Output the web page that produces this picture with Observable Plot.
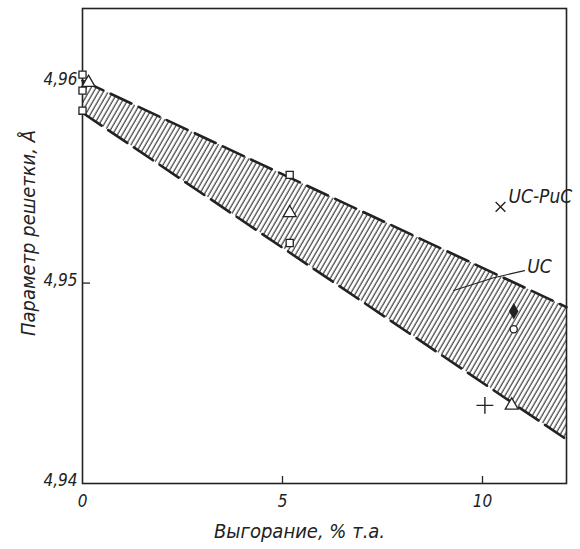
<!DOCTYPE html>
<html><head><meta charset="utf-8">
<script src="https://cdn.jsdelivr.net/npm/d3@7"></script>
<script src="https://cdn.jsdelivr.net/npm/@observablehq/plot@0.6"></script>
<style>
body{margin:0;background:#fff;}
svg text{font-style:italic;}
</style></head><body><div id="chart"></div>
<script>
// axis ticks
const xTicks = [0, 5, 10];
const yTicks = [4.94, 4.95, 4.96];
const xInnerTicks = [5, 10];
const yInnerTicks = [4.95, 4.96];
// hatched band (UC)
const bandX = [0, 12.1];
const bandUpper = [4.9601, 4.9488];
const bandLower = [4.9585, 4.9422];
// measured points
const squareX = [0, 0, 0, 5.18, 5.18];
const squareY = [4.9604, 4.9596, 4.9586, 4.9554, 4.9520];
const triangleX = [0.15, 5.18, 10.73];
const triangleY = [4.9600, 4.9535, 4.9439];
const crossX = [10.45];
const crossY = [4.9538];
const diamondX = [10.78];
const diamondY = [4.9486];
const circleX = [10.78];
const circleY = [4.9477];
const plusX = [10.06];
const plusY = [4.9439];
// annotations
const labelText = ["UC-PuC", "UC"];
const labelX = [10.65, 11.12];
const labelY = [4.9543, 4.9508];
const leaderX = [11.05, 10.28, 9.28];
const leaderY = [4.95062, 4.95027, 4.94963];
const xTitle = "Выгорание, % т.а.";
const yTitle = "Параметр решетки, Å";

const band = bandX.map((x, i) => ({x, hi: bandUpper[i], lo: bandLower[i]}));
const pts = (xs, ys) => xs.map((x, i) => ({x, y: ys[i]}));
const labels = labelText.map((t, i) => ({t, x: labelX[i], y: labelY[i]}));
const ink = "#222";
const fmt = d => d.toFixed(2).replace(".", ",");
const xTickLen = 0.00035, yTickLen = 0.2;

const svg = Plot.plot({
  width: 580, height: 549,
  marginLeft: 82, marginRight: 14, marginTop: 8, marginBottom: 66,
  style: {fontFamily: "'Liberation Sans Narrow','DejaVu Sans Condensed','Liberation Sans',sans-serif", fontSize: "17px", color: ink, background: "#fff"},
  x: {domain: [0, 12.1]},
  y: {domain: [4.94, 4.9637]},
  marks: [
    Plot.areaY(band, {x: "x", y1: "lo", y2: "hi", fill: "url(#hatch)"}),
    Plot.line(band, {x: "x", y: "hi", stroke: ink, strokeWidth: 2.6, strokeDasharray: "23,8"}),
    Plot.line(band, {x: "x", y: "lo", stroke: ink, strokeWidth: 2.6, strokeDasharray: "23,8"}),
    Plot.frame({stroke: ink, strokeWidth: 1.6}),
    Plot.axisX(xTicks, {tickSize: 0, tickPadding: 11, tickFormat: d => String(d), label: null, fontSize: 17}),
    Plot.axisY(yTicks, {tickSize: 0, tickPadding: 5, tickFormat: fmt, label: null, dy: -3, fontSize: 17}),
    Plot.ruleX(xInnerTicks, {y1: 4.94, y2: 4.94 + xTickLen, stroke: ink, strokeWidth: 1.3}),
    Plot.ruleY(yInnerTicks, {x1: 0, x2: yTickLen, stroke: ink, strokeWidth: 1.3}),
    Plot.line(pts(leaderX, leaderY), {x: "x", y: "y", stroke: ink, strokeWidth: 1.1}),
    Plot.dot(pts(squareX, squareY), {x: "x", y: "y", symbol: "square", r: 4, stroke: ink, fill: "#fff", strokeWidth: 1.3}),
    Plot.dot(pts(triangleX, triangleY), {x: "x", y: "y", symbol: "triangle", r: 4.8, stroke: ink, fill: "#fff", strokeWidth: 1.3}),
    Plot.dot(pts(crossX, crossY), {x: "x", y: "y", symbol: "times", r: 4.5, stroke: ink, strokeWidth: 1.4}),
    Plot.dot(pts(plusX, plusY), {x: "x", y: "y", symbol: "plus", r: 5.5, stroke: ink, strokeWidth: 1.4}),
    Plot.dot(pts(circleX, circleY), {x: "x", y: "y", symbol: "circle", r: 3.6, stroke: ink, fill: "#fff", strokeWidth: 1.3}),
    Plot.dot(pts(diamondX, diamondY), {x: "x", y: "y", symbol: "diamond", r: 5, fill: ink, stroke: "none"}),
    Plot.text(labels, {x: "x", y: "y", text: "t", textAnchor: "start", fontSize: 19, fill: ink}),
    Plot.text([xTitle], {frameAnchor: "bottom", textAnchor: "middle", dx: -25, dy: 54, fontSize: 20, fill: ink}),
    Plot.text([yTitle], {frameAnchor: "left", textAnchor: "middle", rotate: -90, dx: -54, dy: -13, fontSize: 20, fill: ink})
  ]
});

const ns = "http://www.w3.org/2000/svg";
const defs = document.createElementNS(ns, "defs");
const pat = document.createElementNS(ns, "pattern");
pat.setAttribute("id", "hatch");
pat.setAttribute("patternUnits", "userSpaceOnUse");
pat.setAttribute("width", "4.2");
pat.setAttribute("height", "10");
pat.setAttribute("patternTransform", "rotate(30)");
const ln = document.createElementNS(ns, "line");
ln.setAttribute("x1", "1"); ln.setAttribute("x2", "1");
ln.setAttribute("y1", "0"); ln.setAttribute("y2", "10");
ln.setAttribute("stroke", ink); ln.setAttribute("stroke-width", "1.05");
pat.appendChild(ln);
defs.appendChild(pat);
svg.insertBefore(defs, svg.firstChild);
document.getElementById("chart").appendChild(svg);
</script></body></html>
